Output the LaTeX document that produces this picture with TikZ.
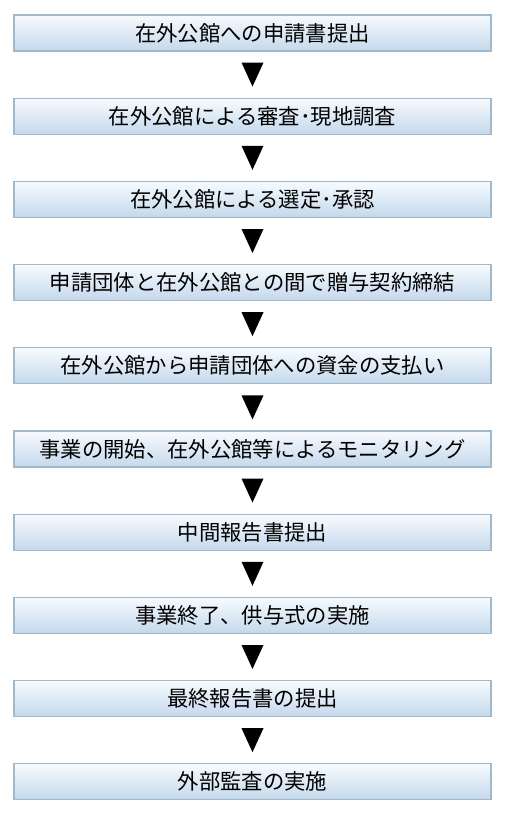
\documentclass[tikz,border=0pt]{standalone}
\usepackage{fontspec}
\usepackage{xcolor}
\usetikzlibrary{positioning,calc}
\newfontfamily\jpfont{Noto Sans CJK JP}
\definecolor{boxtop}{RGB}{247,251,254}
\definecolor{boxbottom}{RGB}{196,216,236}
\definecolor{boxline}{RGB}{160,186,204}

\begin{document}
\begin{tikzpicture}[
  node distance=34.6pt,
  stepbox/.style={draw=boxline, line width=0.8pt, top color=boxtop,
    bottom color=boxbottom, minimum width=357.75pt,
    minimum height=27pt, inner sep=0pt,
    font=\jpfont\fontsize{16pt}{17pt}\selectfont}
]
  \useasboundingbox (0,0) rectangle (381pt,-613.5pt);

  \node[stepbox] (b1) at (189.375pt,-24.75pt) {在外公館への申請書提出};
  \node[stepbox, below=of b1] (b2) {在外公館による審査･現地調査};
  \node[stepbox, below=of b2] (b3) {在外公館による選定･承認};
  \node[stepbox, below=of b3] (b4) {申請団体と在外公館との間で贈与契約締結};
  \node[stepbox, below=of b4] (b5) {在外公館から申請団体への資金の支払い};
  \node[stepbox, below=of b5] (b6) {事業の開始、在外公館等によるモニタリング};
  \node[stepbox, below=of b6] (b7) {中間報告書提出};
  \node[stepbox, below=of b7] (b8) {事業終了、供与式の実施};
  \node[stepbox, below=of b8] (b9) {最終報告書の提出};
  \node[stepbox, below=of b9] (b10) {外部監査の実施};

  % down triangles between the steps
  \foreach \i [evaluate=\i as \j using int(\i+1)] in {1,...,9}
    \fill ($(b\i.south)!0.5!(b\j.north)$) ++(-8.25pt,9pt) -- ++(16.5pt,0)
      -- ++(-8.25pt,-18pt) -- cycle;
\end{tikzpicture}
\end{document}
